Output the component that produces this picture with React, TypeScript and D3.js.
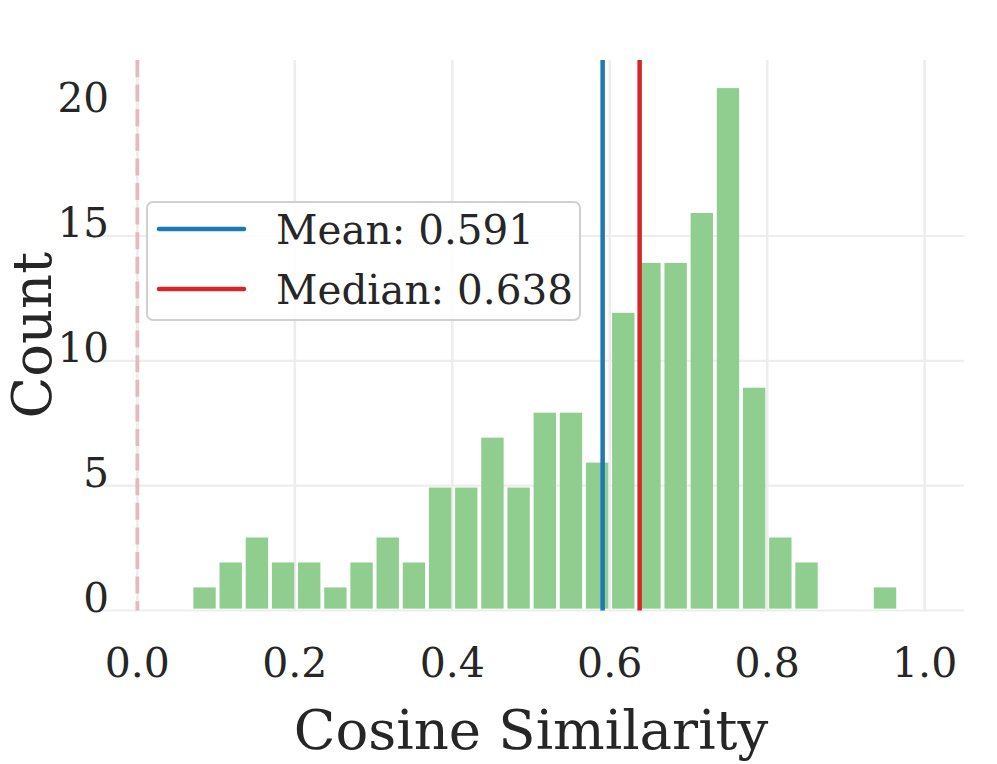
import React from "react"
import * as d3 from "d3"

// histogram counts per bin (27 equal bins between binRange)
const counts = [1, 2, 3, 2, 2, 1, 2, 3, 2, 5, 5, 7, 5, 8, 8, 6, 12, 14, 14, 16, 21, 9, 3, 2, 0, 0, 1]
const binRange = [0.0687, 0.9663]
const xTicks = [0, 0.2, 0.4, 0.6, 0.8, 1.0]
const yTicks = [0, 5, 10, 15, 20]
const gridY = [0, 5, 10, 15]
const meanValue = 0.591
const medianValue = 0.638
const refValue = 0

const W = 997
const H = 764
const font = "'DejaVu Serif', serif"
const ink = "#262626"

const App = () => {
  const x = d3.scaleLinear().domain([-0.05, 1.05]).range([98, 964])
  const y = d3.scaleLinear().domain([0, 22.05]).range([610.5, 60])

  const step = (binRange[1] - binRange[0]) / counts.length
  const bins = counts.map((c, i) => ({
    x0: binRange[0] + i * step,
    x1: binRange[0] + (i + 1) * step,
    count: c,
  }))
  const fmt = d3.format(".3f")
  const inset = 1.9

  return (
    <svg width={W} height={H} style={{ display: "block", position: "absolute", left: 0, top: 0 }}>
      <rect width={W} height={H} fill="#fff" />
      {/* grid */}
      {xTicks.map((t) => (
        <line key={"gx" + t} x1={x(t)} x2={x(t)} y1={y.range()[1]} y2={y.range()[0]} stroke="#ededed" strokeWidth={2.6} />
      ))}
      {gridY.map((t) => (
        <line key={"gy" + t} x1={x.range()[0]} x2={x.range()[1]} y1={y(t)} y2={y(t)} stroke="#ededed" strokeWidth={2.2} />
      ))}
      {/* bars */}
      {bins
        .filter((b) => b.count > 0)
        .map((b, i) => (
          <rect
            key={"b" + i}
            x={x(b.x0) + inset}
            width={x(b.x1) - x(b.x0) - 2 * inset}
            y={y(b.count) + inset}
            height={y(0) - y(b.count) - 2 * inset}
            fill="#8fce8f"
          />
        ))}
      {/* reference line */}
      <line x1={x(refValue)} x2={x(refValue)} y1={y.range()[1]} y2={y.range()[0]} stroke="#e3babd" strokeWidth={3.8} strokeDasharray="17 7.6" />
      <line x1={x(meanValue)} x2={x(meanValue)} y1={y.range()[1]} y2={y.range()[0]} stroke="#1f77b4" strokeWidth={4.5} />
      <line x1={x(medianValue)} x2={x(medianValue)} y1={y.range()[1]} y2={y.range()[0]} stroke="#d62728" strokeWidth={4.5} />
      {/* y ticks */}
      {yTicks.map((t) => (
        <text key={"yt" + t} x={109} y={y(t) + 1} textAnchor="end" fontFamily={font} fontSize={40.5} fill={ink}>
          {t}
        </text>
      ))}
      {/* x ticks */}
      {xTicks.map((t) => (
        <text key={"xt" + t} x={x(t)} y={677} textAnchor="middle" fontFamily={font} fontSize={41} fill={ink}>
          {t.toFixed(1)}
        </text>
      ))}
      <text x={(x.range()[0] + x.range()[1]) / 2} y={749} textAnchor="middle" fontFamily={font} fontSize={54.5} fill={ink}>
        Cosine Similarity
      </text>
      <text transform={`translate(51,${(y.range()[0] + y.range()[1]) / 2}) rotate(-90)`} textAnchor="middle" fontFamily={font} fontSize={54.5} fill={ink}>
        Count
      </text>
      {/* legend */}
      <rect x={147} y={202} width={433} height={118} rx={6} fill="#fff" fillOpacity={0.85} stroke="#d0d0d0" strokeWidth={2} />
      <line x1={159} x2={244} y1={229} y2={229} stroke="#1f77b4" strokeWidth={4.5} strokeLinecap="round" />
      <text x={276} y={244} fontFamily={font} fontSize={40.5} fill={ink}>
        {"Mean: " + fmt(meanValue)}
      </text>
      <line x1={159} x2={244} y1={289} y2={289} stroke="#d62728" strokeWidth={4.5} strokeLinecap="round" />
      <text x={276} y={304} fontFamily={font} fontSize={40.5} fill={ink}>
        {"Median: " + fmt(medianValue)}
      </text>
    </svg>
  )
}

export default App
